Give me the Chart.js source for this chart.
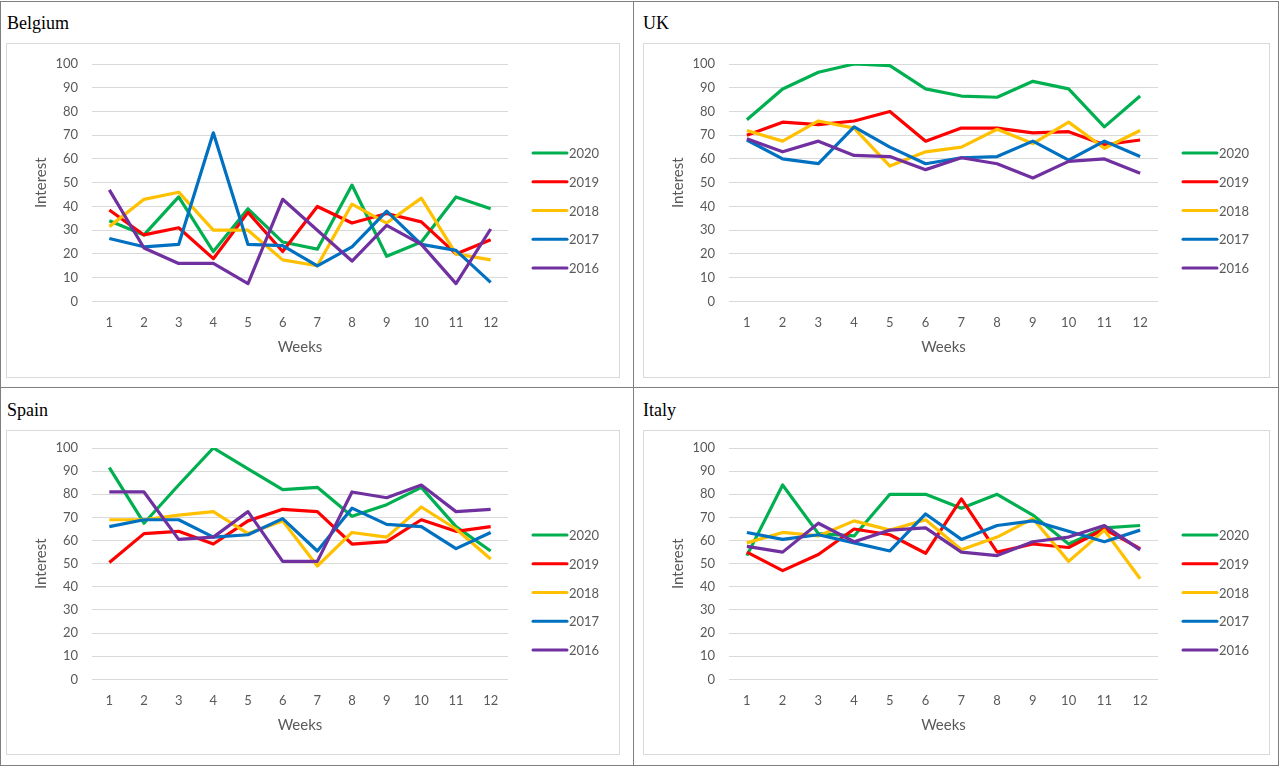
<!DOCTYPE html>
<html>
<head>
<meta charset="utf-8">
<script src="https://cdn.jsdelivr.net/npm/chart.js@4"></script>
<style>
  body { margin: 0; background: #fff; width: 1280px; height: 767px; position: relative; overflow: hidden; }
  .frame { position: absolute; left: 0; top: 1px; width: 1277px; height: 763px; border: 1px solid #7f7f7f; }
  .vline { position: absolute; left: 633px; top: 1px; width: 1px; height: 765px; background: #7f7f7f; }
  .hline { position: absolute; left: 0; top: 387px; width: 1279px; height: 1px; background: #7f7f7f; }
  .title { position: absolute; font-family: "Liberation Serif", serif; font-size: 18px; line-height: 18px; color: #000; }
  .box { position: absolute; border: 1px solid #d9d9d9; box-sizing: border-box; }
  .box canvas { display: block; }
</style>
</head>
<body>
<div class="frame"></div>
<div class="vline"></div>
<div class="hline"></div>

<div class="title" style="left:7px;top:14px">Belgium</div>
<div class="title" style="left:643px;top:14px">UK</div>
<div class="title" style="left:7px;top:401px">Spain</div>
<div class="title" style="left:643px;top:401px">Italy</div>

<div class="box" style="left:6px;top:43px;width:614px;height:335px"><canvas id="belgium"></canvas></div>
<div class="box" style="left:643px;top:43px;width:627px;height:335px"><canvas id="uk"></canvas></div>
<div class="box" style="left:6px;top:430px;width:614px;height:325px"><canvas id="spain"></canvas></div>
<div class="box" style="left:643px;top:430px;width:627px;height:325px"><canvas id="italy"></canvas></div>

<script>
const weeks = ['1', '2', '3', '4', '5', '6', '7', '8', '9', '10', '11', '12'];
const years = ['2020', '2019', '2018', '2017', '2016'];
const colors = ['#00b050', '#ff0000', '#ffc000', '#0070c0', '#7030a0'];
const yTicks = [0, 10, 20, 30, 40, 50, 60, 70, 80, 90, 100];

// one row per year, same order as `years`
const belgium = [
  [34, 28, 44, 21, 39, 25, 22, 49, 19, 25, 44, 39],
  [38.5, 28, 31, 18, 37.5, 21, 40, 33, 37, 33.5, 20, 26],
  [31.5, 43, 46, 30, 30, 17.5, 15, 41, 33, 43.5, 20, 17.5],
  [26.5, 23, 24, 71, 24, 23.5, 15, 23, 38, 24, 21.5, 8],
  [47, 22.5, 16, 16, 7.5, 43, 30, 17, 32, 24, 7.5, 30.5]
];
const uk = [
  [76.5, 89.5, 96.5, 100, 99.3, 89.5, 86.5, 86, 92.7, 89.5, 73.5, 86.5],
  [70, 75.5, 74.5, 76, 80, 67.5, 73, 73, 71, 71.5, 66, 68],
  [72, 67.5, 76, 73, 57, 63, 65, 72.5, 66.5, 75.5, 64.5, 72],
  [68, 60, 58, 73.5, 65, 58, 60.5, 61, 67.5, 59.5, 67.5, 61],
  [68.5, 63, 67.5, 61.5, 61, 55.5, 60.5, 58, 52, 59, 60, 54]
];
const spain = [
  [91.5, 67.5, 84, 100, 91, 82, 83, 70.5, 75.5, 83, 66, 55.5],
  [50.5, 63, 64, 58.5, 68.5, 73.5, 72.5, 58.5, 59.5, 69, 64, 66],
  [69, 69, 71, 72.5, 63, 68.5, 49, 63.5, 61.5, 74.5, 65, 52],
  [66, 69, 69, 61.5, 62.5, 69.5, 55.5, 74, 67, 66, 56.5, 63.5],
  [81, 81, 60.5, 61.5, 72.5, 51, 51, 81, 78.5, 84, 72.5, 73.5]
];
const italy = [
  [53.5, 84, 63, 62, 80, 80, 74, 80, 71, 58.5, 65.5, 66.5],
  [55, 47, 54, 65, 62.5, 54.5, 78, 55, 58.5, 57, 65, 56.5],
  [59, 63.5, 62, 68.5, 64.5, 69, 56, 61.5, 69.5, 51, 64.5, 43.5],
  [63.5, 60.5, 62.5, 59, 55.5, 71.5, 60.5, 66.5, 68.5, 64, 59.5, 64.5],
  [57.5, 55, 67.5, 59.5, 64.5, 65.5, 55, 53.5, 59.5, 61.5, 66.5, 56]
];

const FONT = 'Lato';
const GREY = '#595959';

// legend drawn at the right side, Excel style: short line then label
const sideLegend = {
  id: 'sideLegend',
  afterDraw(chart) {
    const ctx = chart.ctx;
    const w = chart.width, h = chart.height;
    const step = 28.8;
    const sets = chart.data.datasets;
    ctx.save();
    ctx.font = '13px ' + FONT;
    ctx.textBaseline = 'middle';
    ctx.fillStyle = GREY;
    sets.forEach((ds, i) => {
      const y = h / 2 + (i - (sets.length - 1) / 2) * step;
      ctx.strokeStyle = ds.borderColor;
      ctx.lineWidth = 3;
      ctx.lineCap = 'round';
      ctx.beginPath();
      ctx.moveTo(w - 86, y);
      ctx.lineTo(w - 52, y);
      ctx.stroke();
      ctx.fillText(ds.label, w - 50, y + 1);
    });
    ctx.restore();
  }
};

function makeChart(id, rows, topPad, bottomPad) {
  const ctx = document.getElementById(id).getContext('2d');
  return new Chart(ctx, {
    type: 'line',
    data: {
      labels: weeks,
      datasets: rows.map((vals, i) => ({
        label: years[i],
        data: vals,
        borderColor: colors[i],
        backgroundColor: colors[i],
        borderWidth: 3.2,
        pointRadius: 0,
        tension: 0,
        borderJoinStyle: 'round',
        order: rows.length - i
      }))
    },
    options: {
      responsive: true,
      maintainAspectRatio: false,
      animation: false,
      layout: { padding: { top: topPad, right: 111, bottom: bottomPad, left: 0 } },
      plugins: { legend: { display: false }, tooltip: { enabled: false } },
      scales: {
        x: {
          offset: true,
          grid: { display: false, drawTicks: false },
          border: { display: false },
          ticks: { color: GREY, font: { family: FONT, size: 13 }, padding: 14, maxRotation: 0 },
          title: { display: true, text: 'Weeks', color: GREY, font: { family: FONT, size: 15 }, padding: { top: -7, bottom: 0 } }
        },
        y: {
          min: 0,
          max: 100,
          afterFit: s => { s.width = 85; },
          afterBuildTicks: s => { s.ticks = yTicks.map(v => ({ value: v })); },
          grid: { color: '#d9d9d9', lineWidth: 1, drawTicks: false },
          border: { display: false },
          // small lineHeight keeps the label overflow from pushing the plot top down
          ticks: { color: GREY, font: { family: FONT, size: 13, lineHeight: 0.4 }, padding: 14 },
          title: { display: true, text: 'Interest', color: GREY, font: { family: FONT, size: 15 }, padding: { top: 25, bottom: 0 } }
        }
      }
    },
    plugins: [sideLegend]
  });
}

makeChart('belgium', belgium, 20, 21);
makeChart('uk', uk, 20, 21);
makeChart('spain', spain, 17, 20);
makeChart('italy', italy, 17, 20);
</script>
</body>
</html>
